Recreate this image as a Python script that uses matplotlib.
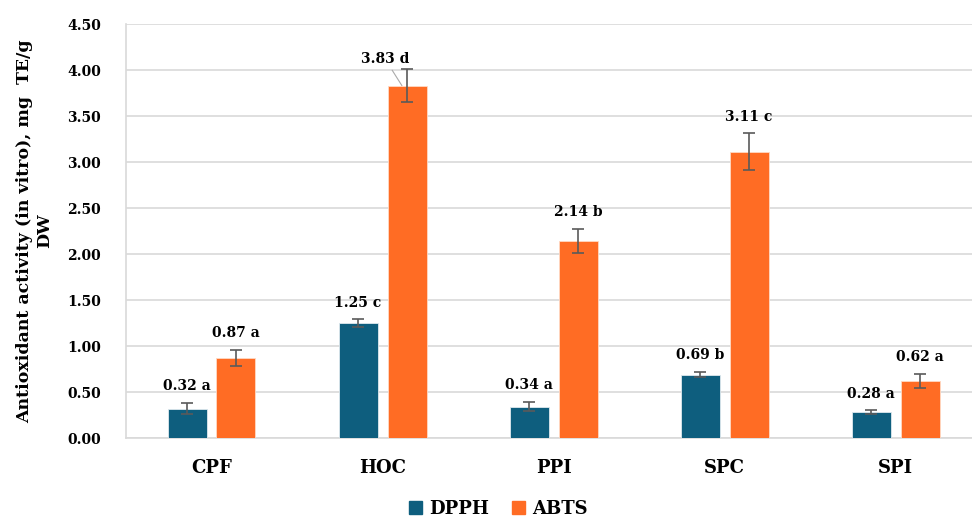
import matplotlib
matplotlib.use('Agg')
import matplotlib.pyplot as plt
import numpy as np
from matplotlib.patches import Patch

plt.rcParams['font.family'] = ['DejaVu Serif']

samples = ["CPF", "HOC", "PPI", "SPC", "SPI"]
dpph = [0.32, 1.25, 0.34, 0.69, 0.28]
dpph_err = [0.06, 0.04, 0.05, 0.03, 0.02]
dpph_letters = ["a", "c", "a", "b", "a"]
abts = [0.87, 3.83, 2.14, 3.11, 0.62]
abts_err = [0.09, 0.18, 0.13, 0.20, 0.08]
abts_letters = ["a", "d", "b", "c", "a"]

C_DPPH = '#0E5E7E'
C_ABTS = '#FF6C24'

fig = plt.figure(figsize=(9.72, 5.22), dpi=100)
ax = fig.add_axes([0.1296, 0.1609, 0.880, 0.7931])

x = np.arange(len(samples))
w = 0.228
off = 0.143
err_kw = dict(ecolor='#5a5a5a', elinewidth=1.2, capsize=4, capthick=1.2)
ax.bar(x - off, dpph, w, color=C_DPPH, edgecolor='#dfe9ee', linewidth=0.6,
       yerr=dpph_err, error_kw=err_kw, zorder=3)
ax.bar(x + off, abts, w, color=C_ABTS, edgecolor='#ffd9c4', linewidth=0.6,
       yerr=abts_err, error_kw=err_kw, zorder=3)

lab_kw = dict(ha='center', va='bottom', fontsize=10, fontweight='bold',
              textcoords='offset points')
for i in range(len(samples)):
    ax.annotate(f'{dpph[i]:.2f} {dpph_letters[i]}', (x[i] - off, dpph[i] + dpph_err[i]),
                xytext=(0, 7), **lab_kw)
    if samples[i] == "HOC":
        # label pushed left, with a leader line down to the bar
        ax.annotate(f'{abts[i]:.2f} {abts_letters[i]}', (x[i] + off - 0.03, abts[i]),
                    xytext=(-12, 14), **lab_kw,
                    arrowprops=dict(arrowstyle='-', color='#aaaaaa', lw=0.8,
                                    shrinkA=1, shrinkB=0))
    else:
        ax.annotate(f'{abts[i]:.2f} {abts_letters[i]}', (x[i] + off, abts[i] + abts_err[i]),
                    xytext=(0, 7), **lab_kw)

ax.set_xlim(-0.5, len(samples) - 0.5)
ax.set_ylim(0, 4.5)
ax.set_yticks(np.arange(0, 4.51, 0.5))
ax.set_yticklabels([f'{v:.2f}' for v in np.arange(0, 4.51, 0.5)],
                   fontsize=10, fontweight='bold')
ax.set_xticks(x)
ax.set_xticklabels(samples, fontsize=13, fontweight='bold')
ax.tick_params(axis='both', length=0)
ax.tick_params(axis='x', pad=15)
ax.tick_params(axis='y', pad=18)
ax.grid(axis='y', color='#d9d9d9', linewidth=1.2, zorder=0)
ax.set_axisbelow(True)
for s in ['top', 'right']:
    ax.spines[s].set_visible(False)
for s in ['left', 'bottom']:
    ax.spines[s].set_color('#d9d9d9')
    ax.spines[s].set_linewidth(1.2)

ax.set_ylabel('Antioxidant activity (in vitro), mg  TE/g\nDW', fontsize=12.5,
              fontweight='bold', labelpad=10, linespacing=1.25)

handles = [Patch(color=C_DPPH, label='DPPH'), Patch(color=C_ABTS, label='ABTS')]
fig.legend(handles=handles, loc='center', bbox_to_anchor=(0.513, 0.025), ncol=2,
           frameon=False, prop=dict(size=13, weight='bold'), handlelength=0.7,
           handleheight=0.7, handletextpad=0.4, columnspacing=1.3)

fig.savefig('out.png', dpi=100)
